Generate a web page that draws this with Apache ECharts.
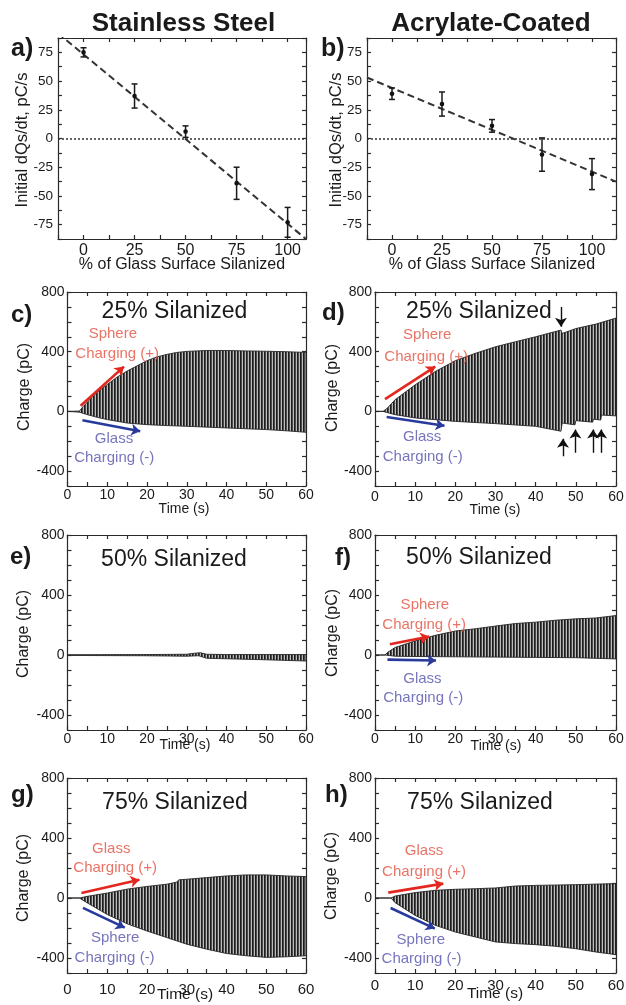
<!DOCTYPE html>
<html><head><meta charset="utf-8">
<script src="https://cdn.jsdelivr.net/npm/echarts@6/dist/echarts.min.js"></script>
<style>html,body{margin:0;padding:0;background:#fff}#c{width:626px;height:1005px}</style>
</head><body><div id="c"></div>
<script>
// ---------------- DATA ----------------
const pctSilanized = [0, 25, 50, 75, 100];
const steelRate = [75, 37, 6, -39, -73];
const steelErr = [4, 10.5, 5, 14, 13];
const acrylRate = [39, 30, 11, -14, -31];
const acrylErr = [5, 10.5, 5.5, 14.5, 13.5];
const steelFit = [[-12.5, 91.7], [110, -89]];
const acrylFit = [[-12.5, 53.1], [112, -37.6]];
const rateTicks = [-75, -50, -25, 0, 25, 50, 75];
const pctTicks = [0, 25, 50, 75, 100];
const timeTicks = [0, 10, 20, 30, 40, 50, 60];
const chargeTicks = [-400, 0, 400, 800];

// envelopes of the charge oscillation [time s, charge pC]
const cUpper = [[0,0],[3,2],[4,35],[6,90],[8,140],[10,180],[12.5,230],[15,270],[17.5,305],[20,340],[22.5,365],[25,382],[27.5,395],[30,402],[35,408],[40,408],[45,405],[50,403],[55,400],[60,395]];
const cLower = [[0,0],[3,-5],[5,-22],[7.5,-40],[10,-55],[15,-78],[20,-89],[25,-95],[30,-100],[40,-111],[50,-122],[55,-130],[60,-140]];
const dUpper = [[0,0],[2,0],[3,20],[5,78],[10,178],[15,267],[20,340],[25,389],[30,433],[35,467],[40,500],[46.3,545],[46.6,522],[50,555],[55,585],[60,625]];
const dLower = [[0,0],[2,0],[5,-22],[10,-44],[20,-67],[30,-82],[40,-100],[46.3,-133],[46.6,-78],[49.8,-90],[50,-62],[54.2,-72],[54.4,-52],[56.2,-58],[56.4,-25],[60,-30]];
const eUpper = [[0,2],[20,3],[30,5],[32,12],[33.5,15],[35,5],[40,3],[50,3],[60,3]];
const eLower = [[0,-3],[20,-5],[30,-8],[33,-5],[35,-22],[40,-25],[50,-32],[60,-40]];
const fUpper = [[0,0],[2.5,0],[3,15],[5,50],[10,94],[15,131],[20,160],[25,175],[30,193],[35,210],[40,219],[45,232],[50,241],[55,247],[60,263]];
const fLower = [[0,0],[2.5,0],[5,-8],[10,-10],[20,-12],[30,-14],[40,-16],[50,-18],[60,-26]];
const gUpper = [[0,0],[3,0],[5,11],[10,33],[15,59],[20,77],[25,92],[27.5,106],[28,121],[30,125],[35,136],[40,147],[45,154],[50,154],[55,147],[60,143]];
const gLower = [[0,0],[3,0],[5,-33],[10,-110],[15,-172],[20,-220],[25,-264],[30,-308],[35,-341],[40,-370],[45,-385],[50,-396],[55,-392],[60,-385]];
const hUpper = [[0,0],[4,0],[5,13],[10,36],[15,51],[20,58],[25,62],[30,67],[35,80],[40,84],[50,89],[60,96]];
const hLower = [[0,0],[4,0],[5,-31],[10,-116],[15,-182],[20,-227],[25,-260],[30,-293],[35,-304],[40,-311],[45,-322],[50,-338],[55,-360],[60,-378]];

// annotations [t, charge, text, colour key]
const cNotes = [[11.4,522,'Sphere','r'],[12.5,384,'Charging (+)','r'],[11.7,-182,'Glass','b'],[11.75,-311,'Charging (-)','b']];
const dNotes = [[13,511,'Sphere','r'],[12.75,367,'Charging (+)','r'],[11.75,-171,'Glass','b'],[11.9,-304,'Charging (-)','b']];
const fNotes = [[12.4,334,'Sphere','r'],[12.25,203,'Charging (+)','r'],[11.8,-157,'Glass','b'],[12,-289,'Charging (-)','b']];
const gNotes = [[11,330,'Glass','r'],[12,198,'Charging (+)','r'],[12,-268,'Sphere','b'],[11.85,-400,'Charging (-)','b']];
const hNotes = [[12.2,313,'Glass','r'],[12.2,173,'Charging (+)','r'],[11.4,-276,'Sphere','b'],[11.6,-404,'Charging (-)','b']];
// arrows [t1, q1, t2, q2, colour key]
const cArrows = [[3.3,38,14.2,300,'r'],[3.75,-60,18.3,-133,'b']];
const dArrows = [[2.5,82,15,300,'r'],[2.9,-38,17.3,-96,'b'],[46.3,700,46.3,567,'k'],[46.8,-300,46.8,-184,'k'],[49.9,-277,49.9,-122,'k'],[54.3,-277,54.3,-122,'k'],[56.3,-277,56.3,-122,'k']];
const fArrows = [[3.7,72,13.5,123,'r'],[3.1,-31,15.2,-37,'b']];
const gArrows = [[3.5,33,18.1,122,'r'],[3.9,-66,14.4,-198,'b']];
const hArrows = [[3.3,36,17,96,'r'],[3.9,-67,14.9,-204,'b']];

// ---------------- STYLE / LAYOUT ----------------
const FONT = '"Liberation Sans", Arial, Helvetica, sans-serif';
const INK = '#1a1a1a';
const AXL = {color: '#2a2a2a', width: 1.2};
const NOTE_COL = {r: '#e4503f', b: '#5451ab'};
const ARROW_COL = {r: '#e3271f', b: '#283a9c', k: '#111'};

const stripeCanvas = document.createElement('canvas');
stripeCanvas.width = 3; stripeCanvas.height = 4;
(function () {
  const x = stripeCanvas.getContext('2d');
  x.fillStyle = '#1c1c1c'; x.fillRect(0, 0, 1, 4);
  x.fillStyle = '#4c4c4c'; x.fillRect(1, 0, 1, 4);
  x.fillStyle = '#bdbdbd'; x.fillRect(2, 0, 1, 4);
})();
const stripe = {image: stripeCanvas, repeat: 'repeat'};

const grids = [
  {left: 58, top: 38, width: 248, height: 201},
  {left: 367, top: 38, width: 249, height: 201},
  {left: 67.5, top: 292, width: 238.5, height: 194},
  {left: 375, top: 292, width: 241, height: 194},
  {left: 67.5, top: 535, width: 238.5, height: 195},
  {left: 375, top: 535, width: 241, height: 195},
  {left: 67.5, top: 778, width: 238.5, height: 195},
  {left: 375, top: 778, width: 241, height: 195}
].map(g => Object.assign({outerBoundsMode: 'none', containLabel: false}, g));

function fmt(list) { return v => (list.indexOf(v) >= 0 ? String(v) : ''); }

const xAxis = [], yAxis = [];
function addAxes(g, xr, xl, xfs, xm, yr, yl, yfs, ym) {
  const tick = {show: true, inside: true, length: 4, lineStyle: AXL};
  xAxis.push({gridIndex: g, type: 'value', position: 'bottom', min: xr[0], max: xr[1], interval: xr[2],
    axisLine: {show: true, onZero: false, lineStyle: AXL}, axisTick: tick, splitLine: {show: false},
    axisLabel: {show: true, margin: xm, fontSize: xfs, color: INK, fontFamily: FONT, formatter: fmt(xl)}});
  xAxis.push({gridIndex: g, type: 'value', position: 'top', min: xr[0], max: xr[1], interval: xr[2],
    axisLine: {show: true, onZero: false, lineStyle: AXL}, axisTick: tick, splitLine: {show: false}, axisLabel: {show: false}});
  yAxis.push({gridIndex: g, type: 'value', position: 'left', min: yr[0], max: yr[1], interval: yr[2],
    axisLine: {show: true, onZero: false, lineStyle: AXL}, axisTick: tick, splitLine: {show: false},
    axisLabel: {show: true, margin: ym, fontSize: yfs, color: INK, fontFamily: FONT, formatter: fmt(yl)}});
  yAxis.push({gridIndex: g, type: 'value', position: 'right', min: yr[0], max: yr[1], interval: yr[2],
    axisLine: {show: true, onZero: false, lineStyle: AXL}, axisTick: tick, splitLine: {show: false}, axisLabel: {show: false}});
}
addAxes(0, [-12.5, 109, 12.5], pctTicks, 16, 4, [-87.5, 87.5, 12.5], rateTicks, 13.5, 5);
addAxes(1, [-12.5, 112, 12.5], pctTicks, 16, 4, [-87.5, 87.5, 12.5], rateTicks, 13.5, 5);
const timeMargins = [2, 4, 2, 2, 9, 5];
for (let i = 0; i < 6; i++) {
  const big = i >= 4;
  addAxes(i + 2, [0, 60, 5], timeTicks, big ? 15 : 14, timeMargins[i], [-500, 800, 100], chargeTicks, 14, 3);
}

const series = [];
function rateSeries(g, ys, errs, fit) {
  series.push({
    type: 'custom', xAxisIndex: 2 * g, yAxisIndex: 2 * g, silent: true, z: 5,
    data: pctSilanized.map((x, i) => [x, ys[i], errs[i]]),
    renderItem: (p, api) => {
      const x = api.value(0), y = api.value(1), e = api.value(2);
      const top = api.coord([x, y + e]), bot = api.coord([x, y - e]), c = api.coord([x, y]);
      const st = {stroke: '#1a1a1a', lineWidth: 1.5};
      return {type: 'group', children: [
        {type: 'line', shape: {x1: top[0], y1: top[1], x2: bot[0], y2: bot[1]}, style: st},
        {type: 'line', shape: {x1: top[0] - 3, y1: top[1], x2: top[0] + 3, y2: top[1]}, style: st},
        {type: 'line', shape: {x1: bot[0] - 3, y1: bot[1], x2: bot[0] + 3, y2: bot[1]}, style: st},
        {type: 'circle', shape: {cx: c[0], cy: c[1], r: 2.3}, style: {fill: '#111'}}
      ]};
    }
  });
  series.push({
    type: 'line', xAxisIndex: 2 * g, yAxisIndex: 2 * g, data: fit, symbol: 'none', silent: true, clip: true,
    lineStyle: {color: '#333', width: 2, type: [7, 4]},
    markLine: {symbol: 'none', silent: true, label: {show: false}, data: [{yAxis: 0}],
      lineStyle: {color: '#333', width: 1.5, type: [2, 2]}}
  });
}
rateSeries(0, steelRate, steelErr, steelFit);
rateSeries(1, acrylRate, acrylErr, acrylFit);

function chargeSeries(g, upper, lower, notes, arrows) {
  series.push({
    type: 'custom', xAxisIndex: 2 * g, yAxisIndex: 2 * g, silent: true, clip: true, z: 2,
    data: [[0, 0]],
    renderItem: (p, api) => {
      const pts = upper.map(q => api.coord(q)).concat(lower.slice().reverse().map(q => api.coord(q)));
      return {type: 'polygon', shape: {points: pts}, style: {fill: stripe, stroke: '#262626', lineWidth: 0.9}};
    }
  });
  if (arrows && arrows.length) {
    series.push({
      type: 'lines', coordinateSystem: 'cartesian2d', xAxisIndex: 2 * g, yAxisIndex: 2 * g, silent: true, z: 6,
      symbol: ['none', 'arrow'], symbolSize: 9,
      data: arrows.map(a => ({coords: [[a[0], a[1]], [a[2], a[3]]],
        lineStyle: {color: ARROW_COL[a[4]], width: a[4] === 'k' ? 1.4 : 2.6, opacity: 1}})),
      lineStyle: {width: 2.5, opacity: 1, curveness: 0}
    });
  }
  if (notes && notes.length) {
    series.push({
      type: 'scatter', xAxisIndex: 2 * g, yAxisIndex: 2 * g, silent: true, z: 7,
      symbol: 'circle', symbolSize: 1, itemStyle: {color: 'rgba(0,0,0,0)'},
      data: notes.map(n => ({value: [n[0], n[1]],
        label: {show: true, position: 'inside', formatter: n[2], color: NOTE_COL[n[3]], fontSize: 15, fontFamily: FONT}}))
    });
  }
}
chargeSeries(2, cUpper, cLower, cNotes, cArrows);
chargeSeries(3, dUpper, dLower, dNotes, dArrows);
chargeSeries(4, eUpper, eLower, [], []);
chargeSeries(5, fUpper, fLower, fNotes, fArrows);
chargeSeries(6, gUpper, gLower, gNotes, gArrows);
chargeSeries(7, hUpper, hLower, hNotes, hArrows);

// ---------------- TEXT ----------------
function txt(s, x, y, size, opt) {
  opt = opt || {};
  return {type: 'text', x: x, y: y, rotation: opt.rot || 0, silent: true, z: 10,
    style: {text: s, fill: opt.color || INK, font: (opt.bold ? 'bold ' : '') + size + 'px ' + FONT,
      align: opt.align || 'center', verticalAlign: 'middle', textAlign: opt.align || 'center', textVerticalAlign: 'middle'}};
}
const R = Math.PI / 2;
const graphic = [
  txt('Stainless Steel', 183.5, 24, 26, {bold: true}),
  txt('Acrylate-Coated', 491, 24, 26, {bold: true}),
  txt('a)', 11, 49, 25, {bold: true, align: 'left'}),
  txt('b)', 321, 49, 25, {bold: true, align: 'left'}),
  txt('c)', 11, 315, 24, {bold: true, align: 'left'}),
  txt('d)', 322, 313, 24, {bold: true, align: 'left'}),
  txt('e)', 10, 557, 24, {bold: true, align: 'left'}),
  txt('f)', 335, 558, 24, {bold: true, align: 'left'}),
  txt('g)', 11, 795, 24, {bold: true, align: 'left'}),
  txt('h)', 325, 795, 24, {bold: true, align: 'left'}),
  txt('25% Silanized', 174.5, 312, 23),
  txt('25% Silanized', 479, 312, 23),
  txt('50% Silanized', 174, 560, 23),
  txt('50% Silanized', 479, 558, 23),
  txt('75% Silanized', 175, 803, 23),
  txt('75% Silanized', 480, 803, 23),
  txt('Initial dQs/dt, pC/s', 22.5, 140, 16.5, {rot: R}),
  txt('Initial dQs/dt, pC/s', 336, 140, 16.5, {rot: R}),
  txt('% of Glass Surface Silanized', 182, 265, 16),
  txt('% of Glass Surface Silanized', 492, 265, 16),
  txt('Charge (pC)', 24.5, 387, 16, {rot: R}),
  txt('Charge (pC)', 332.5, 388, 16, {rot: R}),
  txt('Charge (pC)', 23.5, 634, 16, {rot: R}),
  txt('Charge (pC)', 332.5, 633, 16, {rot: R}),
  txt('Charge (pC)', 23.5, 878, 16, {rot: R}),
  txt('Charge (pC)', 331.5, 876, 16, {rot: R}),
  txt('Time (s)', 184, 509, 14),
  txt('Time (s)', 495, 510, 14),
  txt('Time (s)', 185, 745, 14),
  txt('Time (s)', 496, 746.5, 14),
  txt('Time (s)', 185, 995, 15.5),
  txt('Time (s)', 495, 994, 15.5)
];

const chart = echarts.init(document.getElementById('c'), null, {renderer: 'canvas'});
chart.setOption({
  animation: false,
  backgroundColor: '#ffffff',
  grid: grids,
  xAxis: xAxis,
  yAxis: yAxis,
  series: series,
  graphic: graphic
});
</script>
</body></html>
